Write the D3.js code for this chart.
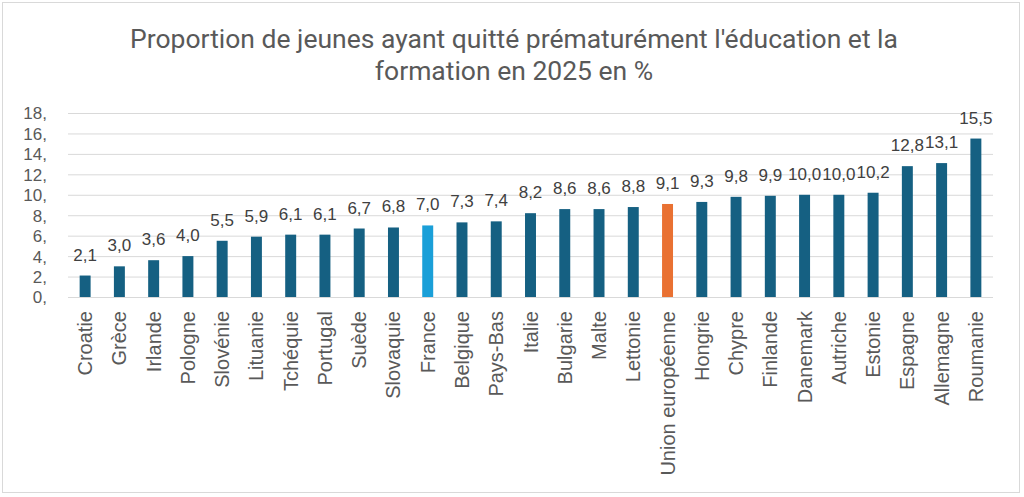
<!DOCTYPE html>
<html>
<head>
<meta charset="utf-8">
<script src="https://cdn.jsdelivr.net/npm/d3@7"></script>
<style>
  html, body { margin: 0; padding: 0; background: #fff; }
  svg { display: block; font-family: "Liberation Sans", Arial, sans-serif; }
</style>
</head>
<body>
<svg id="chart"></svg>
<script>
const width = 1024;
const height = 497;
const margin = { top: 113, right: 31, bottom: 200, left: 68 };
const innerWidth = width - margin.left - margin.right;
const innerHeight = height - margin.top - margin.bottom;

const countries = [
  "Croatie", "Grèce", "Irlande", "Pologne", "Slovénie", "Lituanie", "Tchéquie",
  "Portugal", "Suède", "Slovaquie", "France", "Belgique", "Pays-Bas", "Italie",
  "Bulgarie", "Malte", "Lettonie", "Union européenne", "Hongrie", "Chypre",
  "Finlande", "Danemark", "Autriche", "Estonie", "Espagne", "Allemagne", "Roumanie"
];
const values = [
  2.1, 3.0, 3.6, 4.0, 5.5, 5.9, 6.1,
  6.1, 6.7, 6.8, 7.0, 7.3, 7.4, 8.2,
  8.6, 8.6, 8.8, 9.1, 9.3, 9.8,
  9.9, 10.0, 10.0, 10.2, 12.8, 13.1, 15.5
];
const yTicks = [0, 2, 4, 6, 8, 10, 12, 14, 16, 18];
const titleLines = [
  "Proportion de jeunes ayant quitté prématurément l'éducation et la",
  "formation en 2025 en %"
];

const colorMap = {
  default: "#156082",
  France: "#1a9fd8",
  "Union européenne": "#e97132"
};

const data = countries.map((c, i) => ({ country: c, value: values[i] }));
const fmt = (v) => d3.format(".1f")(v).replace(".", ",");

const svg = d3.select("#chart").attr("width", width).attr("height", height);

// chart border
svg.append("rect")
  .attr("x", 2.5).attr("y", 2.5)
  .attr("width", width - 7).attr("height", height - 7)
  .attr("fill", "#fff")
  .attr("stroke", "#d9d9d9");

// title
const title = svg.append("text")
  .attr("text-anchor", "middle")
  .attr("fill", "#595959")
  .style("font-family", "Roboto, 'Liberation Sans', sans-serif")
  .style("font-size", "23px");
title.selectAll("tspan")
  .data(titleLines)
  .join("tspan")
  .attr("x", width / 2 + 2)
  .attr("y", (d, i) => 48 + i * 32)
  .text((d) => d);

// fit first title line to the reference width
const firstLen = title.select("tspan").node().getComputedTextLength();
title.style("font-size", `${(23 * 768 / firstLen).toFixed(2)}px`);

const root = svg.append("g").attr("transform", `translate(${margin.left},${margin.top})`);

const x = d3.scaleBand().domain(countries).range([0, innerWidth]).paddingInner(0.68).paddingOuter(0.34);
const y = d3.scaleLinear().domain([0, 18]).range([innerHeight, 0]);

root.append("g")
  .attr("class", "grid-y")
  .call(d3.axisLeft(y).tickValues(yTicks).tickSize(-innerWidth).tickFormat(""))
  .call((g) => g.selectAll("line").attr("stroke", "#d9d9d9"))
  .call((g) => g.select(".domain").remove());

root.append("g")
  .attr("class", "axis-y")
  .call(d3.axisLeft(y).tickValues(yTicks).tickSize(0).tickPadding(21).tickFormat((d) => `${d},`))
  .call((g) => g.select(".domain").remove())
  .call((g) => g.selectAll("text")
    .attr("fill", "#595959")
    .style("font-size", "17px")
    .attr("dy", "0.35em"));

root.append("g")
  .attr("class", "axis-x")
  .attr("transform", `translate(0,${innerHeight})`)
  .call(d3.axisBottom(x).tickSize(0).tickPadding(0))
  .call((g) => g.select(".domain").remove())
  .call((g) => g.selectAll("text")
    .attr("fill", "#595959")
    .style("font-size", "20px")
    .attr("text-anchor", "end")
    .attr("dominant-baseline", "central")
    .attr("dy", null)
    .attr("y", 0)
    .attr("transform", "translate(0,14) rotate(-90)"));

root.append("g")
  .selectAll("rect")
  .data(data)
  .join("rect")
  .attr("x", (d) => x(d.country))
  .attr("y", (d) => y(d.value))
  .attr("width", x.bandwidth())
  .attr("height", (d) => innerHeight - y(d.value))
  .attr("fill", (d) => colorMap[d.country] || colorMap.default);

root.append("g")
  .selectAll("text")
  .data(data)
  .join("text")
  .attr("x", (d) => x(d.country) + x.bandwidth() / 2)
  .attr("y", (d) => y(d.value) - 15)
  .attr("text-anchor", "middle")
  .attr("fill", "#404040")
  .style("font-size", "17px")
  .text((d) => fmt(d.value));
</script>
</body>
</html>
